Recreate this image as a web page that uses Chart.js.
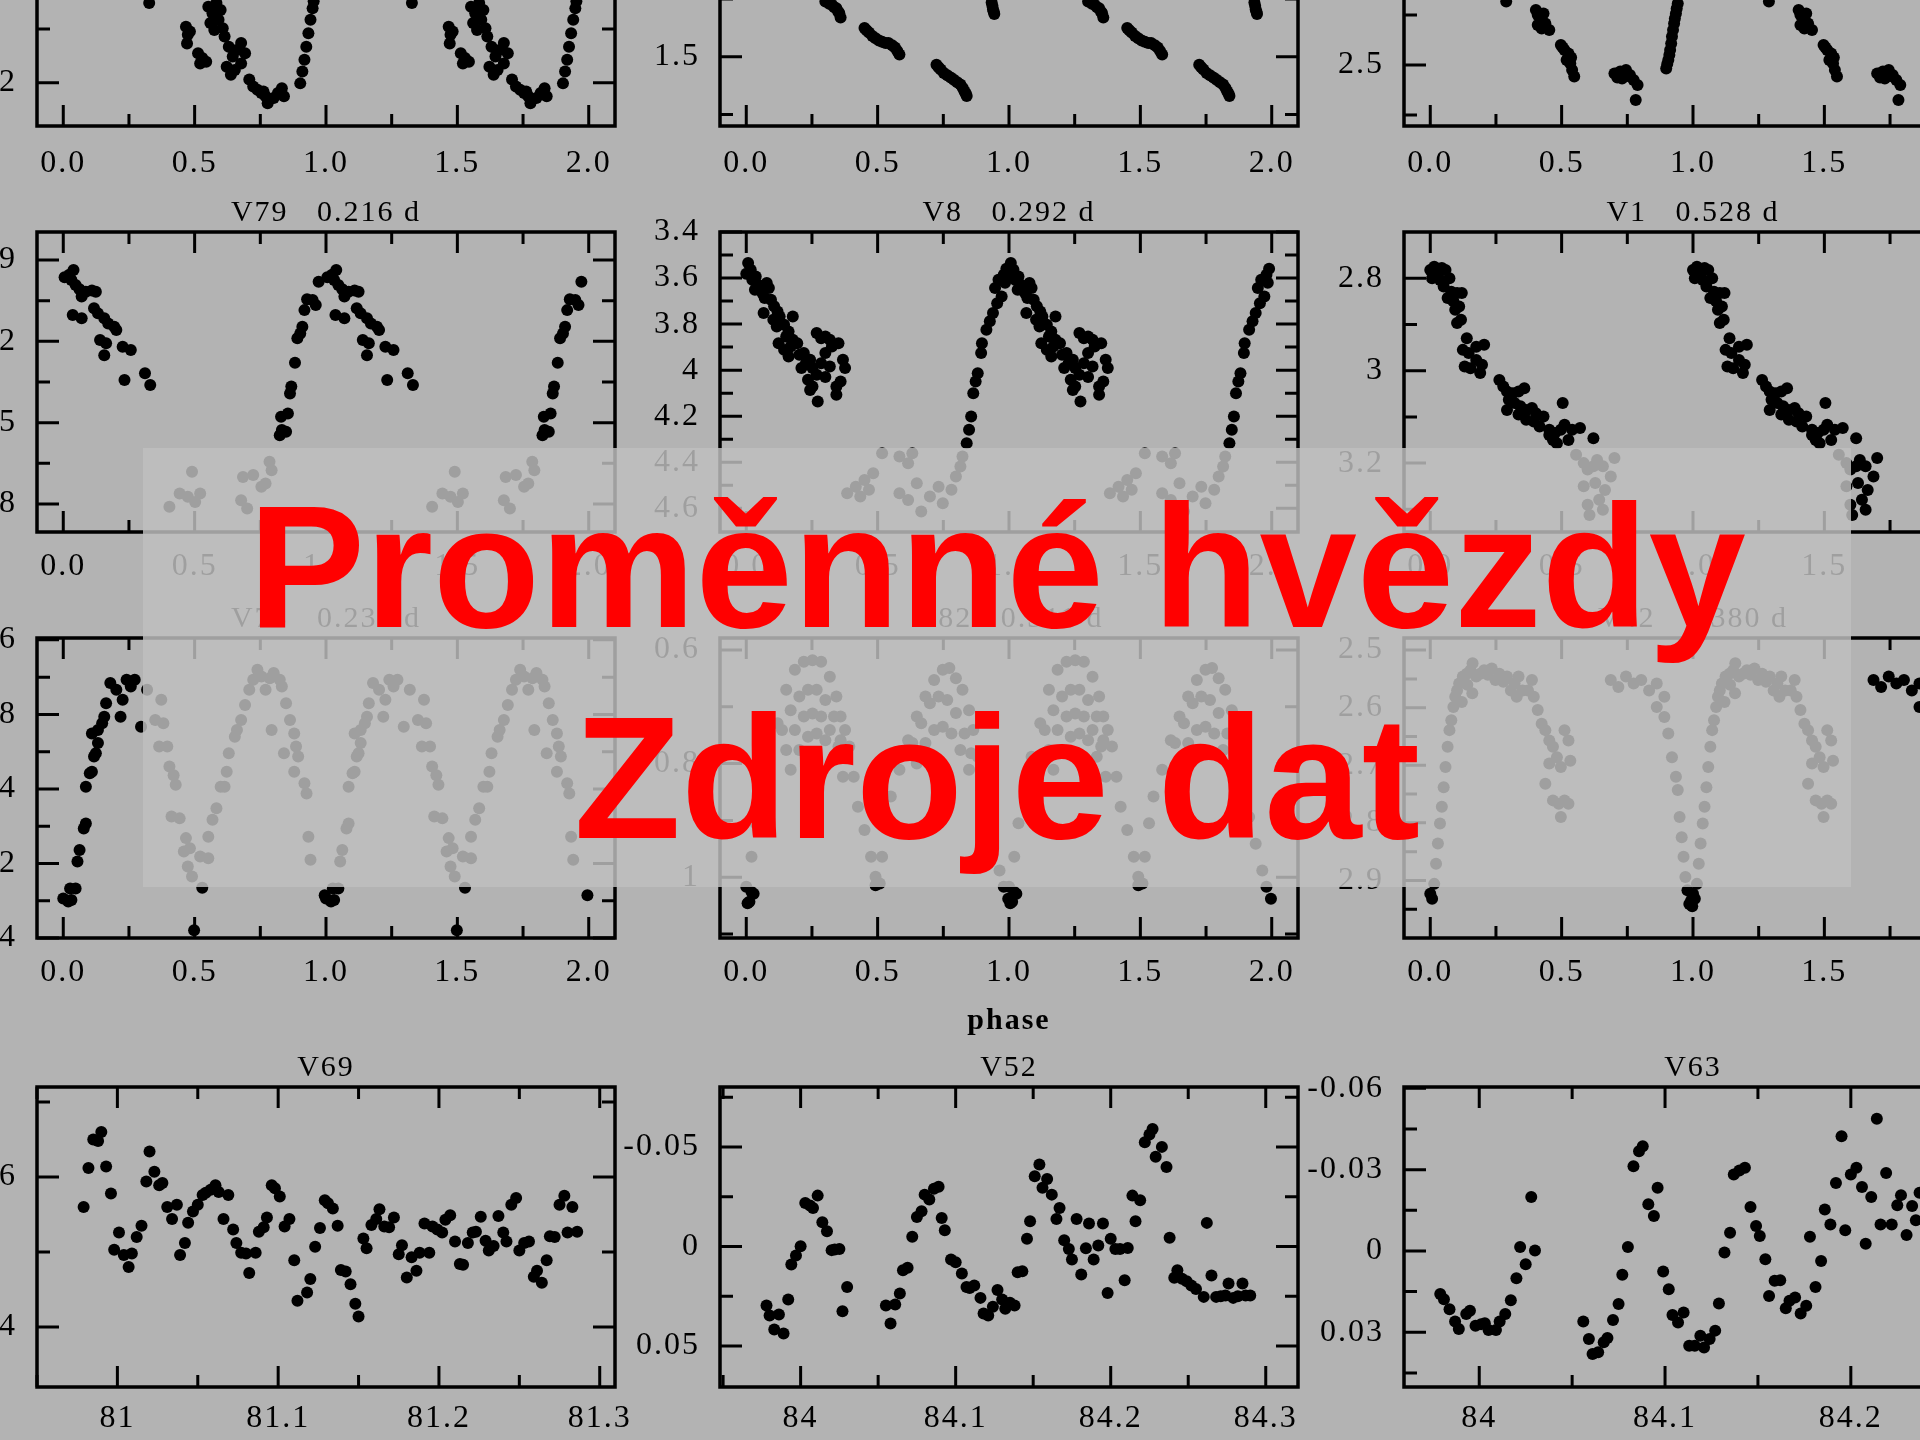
<!DOCTYPE html>
<html>
<head>
<meta charset="utf-8">
<script src="https://cdn.jsdelivr.net/npm/chart.js@4.4.1/dist/chart.umd.min.js"></script>
<style>
  html, body { margin: 0; padding: 0; }
  body { width: 1920px; height: 1440px; background: #b3b3b3; position: relative; overflow: hidden; }
  canvas { position: absolute; }
  #veil { position: absolute; left: 143px; top: 448px; width: 1708px; height: 439px; background: rgba(191, 191, 191, 0.83); }
  .headline { position: absolute; left: 97px; width: 1800px; text-align: center; white-space: nowrap;
    font: bold 175px/175px "Liberation Sans", Arial, sans-serif; color: #ff0000; }
</style>
</head>
<body>
<div id="charts"></div>
<div id="veil"></div>
<div class="headline" style="top:479px">Proměnné hvězdy</div>
<div class="headline" style="top:690px">Zdroje dat</div>
<script>
// Phase-folded light curves, [phase, mag]. Each one is drawn twice (phase and phase + 1).
// Row 1 is cut off by the top edge of the picture.
const r1c1 = [[0.327,4.052],[0.467,4.096],[0.474,4.111],[0.471,4.127],[0.482,4.105],[0.513,4.145],[0.529,4.154],[0.544,4.161],[0.521,4.164],
  [0.552,4.059],[0.568,4.071],[0.583,4.052],[0.599,4.065],[0.560,4.089],[0.591,4.083],[0.607,4.099],[0.575,4.102],[0.614,4.114],[0.630,4.133],
  [0.645,4.151],[0.661,4.139],[0.677,4.126],[0.692,4.145],[0.622,4.170],[0.653,4.176],[0.677,4.164],[0.638,4.185],[0.708,4.194],[0.723,4.207],
  [0.739,4.213],[0.754,4.219],[0.770,4.225],[0.786,4.231],[0.801,4.228],[0.817,4.219],[0.832,4.210],[0.840,4.225],[0.778,4.238],[0.762,4.216],
  [0.902,4.201],[0.910,4.179],[0.918,4.157],[0.925,4.133],[0.933,4.108],[0.941,4.083],[0.949,4.062],[0.953,4.049],
  [0.020,3.780],[0.100,3.860],[0.200,3.940],[0.280,4.000],[0.970,3.980]];
const r1c2 = [[0.301,1.452],[0.316,1.454],[0.326,1.455],[0.335,1.457],[0.343,1.458],[0.350,1.461],[0.354,1.462],[0.359,1.466],
  [0.450,1.475],[0.458,1.477],[0.467,1.479],[0.480,1.482],[0.492,1.484],[0.505,1.486],[0.517,1.487],[0.530,1.488],[0.541,1.488],
  [0.555,1.490],[0.566,1.492],[0.575,1.495],[0.583,1.498],
  [0.724,1.507],[0.732,1.509],[0.740,1.511],[0.752,1.514],[0.765,1.516],[0.778,1.518],[0.790,1.520],[0.803,1.522],[0.815,1.524],
  [0.824,1.527],[0.831,1.530],[0.836,1.532],[0.839,1.534],
  [0.934,1.453],[0.937,1.456],[0.939,1.459],[0.942,1.461],[0.944,1.463],
  [0.960,1.400],[0.990,1.360],[0.050,1.360],[0.120,1.380],[0.200,1.410],[0.260,1.430]];
const r1c3 = [[0.289,2.373],[0.402,2.390],[0.416,2.403],[0.431,2.397],[0.438,2.417],[0.453,2.430],[0.409,2.420],[0.424,2.427],[0.409,2.400],
  [0.497,2.460],[0.511,2.470],[0.526,2.477],[0.533,2.497],[0.540,2.510],[0.548,2.523],[0.519,2.490],[0.504,2.465],[0.536,2.485],
  [0.701,2.517],[0.723,2.513],[0.745,2.510],[0.760,2.520],[0.774,2.530],[0.730,2.527],[0.789,2.540],[0.782,2.570],[0.712,2.525],[0.752,2.522],
  [0.898,2.507],[0.902,2.498],[0.906,2.490],[0.910,2.480],[0.913,2.470],[0.917,2.457],[0.920,2.443],[0.924,2.430],[0.928,2.417],
  [0.931,2.407],[0.935,2.397],[0.938,2.387],[0.942,2.377],
  [0.950,2.300],[0.980,2.150],[0.050,2.200],[0.150,2.280],[0.250,2.340]];

// Row 2
const v79 = [[0.005,3.964],[0.023,3.955],[0.039,3.937],[0.031,3.974],[0.047,3.992],[0.062,4.008],[0.070,4.035],[0.086,4.017],[0.109,4.013],
  [0.124,4.017],[0.036,4.103],[0.070,4.115],[0.117,4.078],[0.132,4.097],[0.156,4.115],[0.171,4.134],[0.194,4.146],[0.202,4.158],[0.140,4.195],
  [0.163,4.207],[0.156,4.251],[0.226,4.220],[0.257,4.232],[0.233,4.343],[0.311,4.318],[0.331,4.361],
  [0.404,4.810],[0.443,4.761],[0.490,4.681],[0.521,4.761],[0.502,4.792],[0.474,4.773],[0.684,4.700],[0.723,4.693],[0.770,4.724],
  [0.785,4.644],[0.793,4.675],[0.677,4.786],[0.700,4.816],[0.754,4.736],
  [0.824,4.546],[0.832,4.527],[0.848,4.533],[0.829,4.478],[0.855,4.466],[0.863,4.392],[0.868,4.367],[0.882,4.279],[0.891,4.189],
  [0.902,4.171],[0.910,4.146],[0.918,4.085],[0.928,4.045],[0.949,4.048],[0.961,4.066],[0.972,3.980]];
const v8 = [[0.007,3.535],[0.000,3.581],[0.017,3.564],[0.023,3.607],[0.036,3.593],[0.045,3.629],[0.033,3.651],[0.061,3.665],[0.078,3.622],
  [0.070,3.687],[0.086,3.643],[0.094,3.694],[0.066,3.752],[0.106,3.723],[0.119,3.745],[0.103,3.781],[0.127,3.767],[0.116,3.810],[0.144,3.803],
  [0.161,3.832],[0.177,3.767],[0.152,3.854],[0.177,3.868],[0.123,3.883],[0.144,3.912],[0.169,3.897],[0.194,3.883],[0.202,3.933],[0.161,3.941],
  [0.219,3.926],[0.227,3.970],[0.210,3.991],[0.243,3.955],[0.252,3.991],[0.235,4.042],[0.252,4.071],[0.268,3.839],[0.285,3.861],[0.301,3.854],
  [0.268,4.020],[0.285,3.970],[0.301,4.030],[0.318,3.984],[0.326,3.897],[0.343,4.071],[0.359,4.049],[0.351,3.883],[0.368,3.955],[0.376,3.991],
  [0.272,4.136],[0.343,4.107],[0.301,3.926],[0.318,3.868],[0.243,4.086],
  [0.384,4.535],[0.417,4.506],[0.450,4.477],[0.483,4.448],[0.517,4.361],[0.467,4.520],[0.434,4.549],[0.583,4.375],[0.616,4.404],
  [0.632,4.361],[0.583,4.535],[0.616,4.564],[0.649,4.491],[0.666,4.614],[0.699,4.549],[0.732,4.506],[0.748,4.578],[0.781,4.520],
  [0.798,4.462],[0.815,4.419],[0.823,4.375],
  [0.839,4.317],[0.848,4.259],[0.856,4.201],[0.864,4.100],[0.873,4.049],[0.881,4.013],[0.894,3.926],[0.897,3.883],[0.914,3.825],
  [0.927,3.788],[0.939,3.752],[0.955,3.709],[0.972,3.680],[0.947,3.643],[0.960,3.607],[0.980,3.586],[0.985,3.620],[0.990,3.560]];
const v1 = [[0.000,2.782],[0.015,2.775],[0.029,2.793],[0.044,2.778],[0.058,2.782],[0.007,2.800],[0.037,2.804],[0.073,2.800],[0.051,2.818],
  [0.080,2.829],[0.102,2.832],[0.120,2.832],[0.066,2.843],[0.088,2.850],[0.110,2.861],[0.095,2.868],[0.102,2.897],[0.117,2.890],[0.139,2.930],
  [0.124,2.955],[0.146,2.962],[0.175,2.948],[0.205,2.944],[0.131,2.991],[0.153,2.995],[0.175,2.977],[0.190,3.005],[0.197,2.987],[0.263,3.020],
  [0.278,3.034],[0.292,3.045],[0.314,3.049],[0.336,3.045],[0.358,3.038],[0.299,3.063],[0.321,3.070],[0.343,3.077],[0.365,3.085],[0.387,3.081],
  [0.402,3.092],[0.431,3.099],[0.292,3.085],[0.336,3.095],[0.365,3.106],[0.394,3.110],[0.416,3.121],[0.453,3.128],[0.475,3.135],[0.497,3.128],
  [0.511,3.117],[0.540,3.128],[0.570,3.124],[0.504,3.070],[0.467,3.150],[0.526,3.150],[0.453,3.139],[0.482,3.157],[0.621,3.146],
  [0.555,3.182],[0.584,3.200],[0.599,3.214],[0.621,3.207],[0.635,3.193],[0.657,3.207],[0.701,3.189],[0.687,3.229],[0.665,3.258],
  [0.643,3.279],[0.599,3.290],[0.606,3.312],[0.657,3.301],[0.584,3.250],[0.628,3.243]];

// Row 3
const v73 = [[0.000,4.294],[0.031,4.298],[0.047,4.267],[0.054,4.195],[0.062,4.164],[0.078,4.106],[0.086,4.093],[0.086,3.994],[0.101,3.958],
  [0.109,3.954],[0.117,3.913],[0.124,3.904],[0.132,3.877],[0.109,3.851],[0.132,3.842],[0.148,3.824],[0.156,3.806],[0.163,3.770],[0.179,3.716],
  [0.202,3.734],[0.218,3.806],[0.226,3.761],[0.241,3.707],[0.257,3.725],[0.272,3.707],[0.296,3.833],
  [0.319,3.734],[0.373,3.761],[0.350,3.815],[0.381,3.824],[0.365,3.886],[0.396,3.886],[0.404,3.940],[0.420,3.963],[0.428,3.989],
  [0.412,4.074],[0.443,4.079],[0.467,4.132],[0.459,4.168],[0.482,4.159],[0.474,4.208],[0.490,4.235],[0.521,4.181],[0.529,4.265],
  [0.498,4.379],[0.552,4.186],[0.552,4.128],[0.568,4.083],[0.583,4.052],[0.599,3.994],[0.614,3.994],[0.622,3.954],[0.630,3.904],
  [0.653,3.860],[0.661,3.842],[0.677,3.815],[0.692,3.775],[0.708,3.734],[0.723,3.707],[0.739,3.680],[0.754,3.698],[0.770,3.734],
  [0.786,3.703],[0.801,3.689],[0.824,3.707],[0.832,3.725],[0.793,3.842],[0.848,3.770],[0.863,3.815],[0.879,3.851],[0.840,3.904],
  [0.886,3.886],[0.894,3.913],[0.879,3.954],[0.918,3.985],[0.926,4.012],[0.933,4.128],[0.941,4.190],[0.995,4.285],[0.019,4.302],[0.026,4.267]];
const v82 = [[0.020,0.964],[0.036,0.905],[0.061,0.847],[0.086,0.788],[0.119,0.729],[0.152,0.670],[0.185,0.635],[0.219,0.621],[0.252,0.618],
  [0.285,0.621],[0.318,0.647],[0.343,0.682],[0.359,0.717],[0.376,0.741],[0.392,0.770],[0.409,0.823],[0.425,0.876],[0.450,0.917],[0.475,0.964],
  [0.492,0.999],
  [0.136,0.741],[0.169,0.706],[0.202,0.682],[0.235,0.670],[0.268,0.670],[0.301,0.688],[0.334,0.717],[0.359,0.759],
  [0.152,0.776],[0.185,0.741],[0.219,0.717],[0.252,0.712],[0.285,0.717],[0.318,0.741],[0.351,0.770],
  [0.169,0.811],[0.202,0.776],[0.235,0.753],[0.268,0.747],[0.301,0.759],[0.334,0.788],[0.368,0.823],
  [0.517,0.964],[0.533,0.905],[0.550,0.858],[0.583,0.811],[0.616,0.759],[0.649,0.717],[0.682,0.682],[0.715,0.653],[0.748,0.635],
  [0.773,0.632],[0.798,0.650],[0.823,0.670],[0.848,0.706],[0.864,0.741],[0.881,0.788],[0.897,0.847],[0.914,0.894],[0.939,0.941],[0.964,0.988],
  [0.632,0.764],[0.666,0.729],[0.699,0.694],[0.732,0.682],[0.765,0.688],[0.798,0.711],[0.831,0.747],[0.856,0.782],
  [0.649,0.800],[0.682,0.764],[0.715,0.741],[0.748,0.735],[0.781,0.747],[0.815,0.776],[0.848,0.811],
  [0.000,1.017],[0.012,1.043],[0.028,1.029],[0.005,1.046],[0.020,1.026],[0.492,1.014],[0.508,1.011],[0.980,1.017],[0.997,1.038]];
const v42 = [[0.000,2.923],[0.007,2.932],[0.015,2.906],[0.022,2.871],[0.029,2.836],[0.037,2.801],[0.044,2.772],[0.051,2.738],[0.058,2.703],
  [0.066,2.668],[0.073,2.639],[0.080,2.622],[0.088,2.599],[0.095,2.581],[0.102,2.570],[0.110,2.558],[0.124,2.546],[0.139,2.541],[0.153,2.535],
  [0.161,2.523],[0.175,2.546],[0.190,2.541],[0.205,2.535],[0.219,2.543],[0.234,2.532],[0.248,2.552],[0.263,2.541],[0.278,2.555],[0.292,2.546],
  [0.307,2.570],[0.321,2.558],[0.336,2.546],[0.329,2.581],[0.351,2.570],[0.372,2.570],[0.387,2.552],[0.394,2.581],[0.409,2.604],[0.424,2.628],
  [0.438,2.639],[0.453,2.657],[0.467,2.668],[0.482,2.686],[0.497,2.703],[0.511,2.639],[0.526,2.657],[0.533,2.692],[0.453,2.697],[0.438,2.732],
  [0.467,2.761],[0.489,2.767],[0.511,2.761],[0.526,2.767],[0.497,2.790],[0.141,2.560],[0.160,2.575],[0.120,2.590],
  [0.687,2.552],[0.716,2.564],[0.745,2.546],[0.774,2.558],[0.803,2.552],[0.833,2.570],[0.862,2.558],[0.891,2.581],[0.862,2.599],
  [0.891,2.616],[0.906,2.645],[0.920,2.686],[0.935,2.720],[0.942,2.743],[0.949,2.790],[0.957,2.825],[0.964,2.859],[0.971,2.894],
  [0.979,2.917],[0.986,2.941],[0.993,2.935],[0.997,2.945]];

// Row 4: plain time series (time, mag)
const v69Time = [80.979,80.982,80.985,80.988,80.990,80.993,80.996,80.998,81.001,81.004,81.007,81.009,81.012,81.015,81.018,81.020,81.023,
  81.026,81.028,81.031,81.034,81.037,81.039,81.042,81.044,81.047,81.050,81.053,81.055,81.058,81.061,81.063,81.066,81.069,81.072,81.074,
  81.077,81.080,81.082,81.086,81.088,81.091,81.093,81.096,81.098,81.101,81.104,81.107,81.110,81.112,81.118,81.120,81.123,81.126,81.129,
  81.131,81.134,81.137,81.139,81.142,81.145,81.148,81.150,81.153,81.155,81.158,81.161,81.163,81.166,81.169,81.172,81.175,81.177,81.180,
  81.183,81.186,81.188,81.191,81.194,81.196,81.199,81.202,81.204,81.207,81.210,81.213,81.215,81.218,81.221,81.223,81.226,81.229,81.231,
  81.234,81.237,81.240,81.242,81.245,81.248,81.250,81.253,81.256,81.259,81.261,81.264,81.267,81.269,81.272,81.275,81.278,81.280,81.283,81.286];
const v69Mag = [-0.0560,-0.0612,-0.0650,-0.0648,-0.0660,-0.0614,-0.0578,-0.0503,-0.0526,-0.0496,
  -0.0480,-0.0498,-0.0520,-0.0535,-0.0594,-0.0634,-0.0607,-0.0589,-0.0592,-0.0560,
  -0.0544,-0.0563,-0.0496,-0.0512,-0.0539,-0.0554,-0.0563,-0.0576,-0.0579,-0.0583,
  -0.0589,-0.0580,-0.0544,-0.0576,-0.0530,-0.0512,-0.0499,-0.0498,-0.0472,-0.0499,
  -0.0527,-0.0533,-0.0546,-0.0589,-0.0585,-0.0574,-0.0534,-0.0544,-0.0489,-0.0435,
  -0.0446,-0.0464,-0.0507,-0.0532,-0.0569,-0.0565,-0.0558,-0.0535,-0.0476,-0.0474,
  -0.0457,-0.0431,-0.0414,-0.0518,-0.0505,-0.0536,-0.0544,-0.0557,-0.0534,-0.0533,
  -0.0546,-0.0497,-0.0509,-0.0466,-0.0493,-0.0475,-0.0499,-0.0538,-0.0499,-0.0534,
  -0.0530,-0.0526,-0.0543,-0.0549,-0.0514,-0.0484,-0.0483,-0.0512,-0.0526,-0.0527,
  -0.0547,-0.0515,-0.0502,-0.0508,-0.0548,-0.0526,-0.0514,-0.0563,-0.0572,-0.0502,
  -0.0512,-0.0514,-0.0467,-0.0475,-0.0459,-0.0489,-0.0521,-0.0520,-0.0563,-0.0575,
  -0.0526,-0.0560,-0.0527];
const v52Time = [83.978,83.980,83.983,83.986,83.989,83.992,83.994,83.997,84.000,84.003,84.006,84.008,84.011,84.014,84.017,84.020,84.022,
  84.025,84.027,84.030,
  84.055,84.058,84.061,84.064,84.066,84.069,84.072,84.075,84.078,84.080,84.083,84.086,84.089,84.091,84.093,84.097,84.100,84.104,84.107,
  84.109,84.112,84.116,84.118,84.121,84.124,84.127,84.130,84.132,84.135,84.138,84.140,84.143,84.146,84.148,84.151,84.154,84.156,84.159,
  84.162,84.165,84.167,84.170,84.173,84.175,84.178,84.181,84.184,84.186,84.189,84.192,84.195,84.198,84.200,84.203,84.206,84.209,84.211,
  84.214,84.216,84.219,84.222,84.225,84.227,84.229,84.233,84.236,84.238,84.241,84.243,84.246,84.249,84.252,84.255,84.260,84.262,84.265,
  84.268,84.271,84.274,84.276,84.279,84.282,84.285,84.287,84.290];
const v52Mag = [0.0296,0.0347,0.0417,0.0342,0.0437,0.0266,0.0090,0.0045,-0.0002,-0.0219,-0.0206,-0.0194,-0.0256,-0.0122,-0.0077,0.0018,
  0.0015,0.0012,0.0325,0.0203,
  0.0296,0.0387,0.0291,0.0236,0.0119,0.0107,-0.0049,-0.0149,-0.0178,-0.0261,
  -0.0236,-0.0290,-0.0300,-0.0144,-0.0082,0.0065,0.0079,0.0136,0.0203,0.0208,
  0.0196,0.0258,0.0337,0.0347,0.0303,0.0219,0.0266,0.0313,0.0283,0.0296,
  0.0129,0.0124,-0.0039,-0.0127,-0.0353,-0.0412,-0.0295,-0.0340,-0.0261,-0.0139,
  -0.0194,-0.0032,0.0012,0.0065,-0.0139,0.0141,0.0008,-0.0116,0.0065,-0.0005,
  -0.0116,0.0233,-0.0039,0.0012,0.0012,0.0169,0.0007,-0.0256,-0.0127,-0.0233,
  -0.0524,-0.0563,-0.0591,-0.0451,-0.0501,-0.0400,-0.0044,0.0157,0.0119,0.0162,
  0.0174,0.0196,0.0213,0.0253,-0.0119,0.0146,0.0253,0.0250,0.0246,0.0186,
  0.0258,0.0250,0.0186,0.0246,0.0246];
const v63Time = [83.979,83.981,83.984,83.987,83.989,83.993,83.995,83.998,84.001,84.003,84.005,84.009,84.011,84.014,84.017,84.020,84.022,
  84.025,84.028,84.030,
  84.056,84.059,84.061,84.064,84.067,84.069,84.072,84.075,84.077,84.080,84.083,84.086,84.088,84.091,84.094,84.096,84.099,84.102,84.104,
  84.107,84.110,84.113,84.116,84.119,84.121,84.124,84.127,84.129,84.132,84.135,84.137,84.140,84.143,84.146,84.149,84.151,84.154,84.156,
  84.159,84.162,84.165,84.167,84.170,84.173,84.176,84.178,84.181,84.184,84.186,84.189,84.192,84.195,84.197,84.200,84.203,84.206,84.208,
  84.211,84.214,84.216,84.219,84.222,84.225,84.227,84.230,84.233,84.235,84.237];
const v63Mag = [0.0159,0.0178,0.0215,0.0260,0.0288,0.0233,0.0221,0.0276,0.0270,0.0267,0.0292,0.0292,0.0260,0.0233,0.0182,0.0101,-0.0015,
  0.0049,-0.0199,-0.0002,
  0.0260,0.0325,0.0380,0.0374,0.0337,0.0321,0.0255,0.0196,0.0088,-0.0015,
  -0.0313,-0.0368,-0.0386,-0.0172,-0.0129,-0.0233,0.0076,0.0141,0.0236,0.0264,
  0.0227,0.0350,0.0350,0.0313,0.0356,0.0325,0.0294,0.0194,0.0006,-0.0067,
  -0.0282,-0.0297,-0.0307,-0.0162,-0.0092,-0.0055,0.0031,0.0166,0.0110,0.0108,
  0.0211,0.0184,0.0172,0.0231,0.0202,-0.0052,0.0133,0.0037,-0.0153,-0.0098,
  -0.0251,-0.0423,-0.0076,-0.0282,-0.0307,-0.0236,-0.0027,-0.0199,-0.0488,-0.0098,
  -0.0288,-0.0098,-0.0169,-0.0206,-0.0059,-0.0166,-0.0113,-0.0215];

// tick values (major ones get a label, minor ones only a short mark)
const phaseMajor = [0, 0.5, 1, 1.5, 2];
const phaseMinor = [0.25, 0.75, 1.25, 1.75];
const v69XMajor = [81, 81.1, 81.2, 81.3], v69XMinor = [80.95, 81.05, 81.15, 81.25];
const v52XMajor = [84, 84.1, 84.2, 84.3], v52XMinor = [83.95, 84.05, 84.15, 84.25];
const v63XMajor = [84, 84.1, 84.2], v63XMinor = [84.05, 84.15, 84.25];

const r1c1YMajor = [4.0, 4.2], r1c1YMinor = [3.9, 4.1];
const r1c2YMajor = [1.4, 1.5], r1c2YMinor = [1.35, 1.45, 1.55];
const r1c3YMajor = [2.1, 2.3, 2.5], r1c3YMinor = [2.2, 2.4, 2.6];
const v79YMajor = [3.9, 4.2, 4.5, 4.8], v79YMinor = [4.05, 4.35, 4.65];
const v8YMajor = [3.4, 3.6, 3.8, 4, 4.2, 4.4, 4.6], v8YMinor = [3.5, 3.7, 3.9, 4.1, 4.3, 4.5];
const v1YMajor = [2.8, 3, 3.2], v1YMinor = [2.9, 3.1, 3.3];
const v73YMajor = [3.6, 3.8, 4, 4.2, 4.4], v73YMinor = [3.7, 3.9, 4.1, 4.3];
const v82YMajor = [0.6, 0.8, 1], v82YMinor = [0.7, 0.9, 1.1];
const v42YMajor = [2.5, 2.6, 2.7, 2.8, 2.9], v42YMinor = [2.55, 2.65, 2.75, 2.85, 2.95];
const v69YMajor = [-0.06, -0.04], v69YMinor = [-0.07, -0.05];
const v52YMajor = [-0.05, 0, 0.05], v52YMinor = [-0.075, -0.025, 0.025];
const v63YMajor = [-0.06, -0.03, 0, 0.03], v63YMinor = [-0.045, -0.015, 0.015, 0.045];

// layout of the grid
const colLeft = [37, 720, 1404];
const rowTop = [-174, 232, 638, 1087];
const labelPad = [18, 15, 15, 12];
const plotW = 578, plotH = 300;
const padL = 120, padR = 120, padT = 60, padB = 120;

Chart.defaults.font.family = "'Liberation Serif', 'Times New Roman', serif";
Chart.defaults.color = '#000';

const pairs = (xs, ys) => xs.map((x, i) => [x, ys[i]]);
// phase diagrams show the cycle twice
const twice = (pts) => pts.concat(pts.map(([p, m]) => [p + 1, m]));
const compact = (v) => String(Number(v.toFixed(3)));

const panels = [
  { row: 0, col: 0, title: '', pts: twice(r1c1), x: [-0.1, 2.1], y: [3.724, 4.28], xt: [phaseMajor, phaseMinor], yt: [r1c1YMajor, r1c1YMinor], phase: true },
  { row: 0, col: 1, title: '', pts: twice(r1c2), x: [-0.1, 2.1], y: [1.3, 1.56], xt: [phaseMajor, phaseMinor], yt: [r1c2YMajor, r1c2YMinor], phase: true },
  { row: 0, col: 2, title: '', pts: twice(r1c3), x: [-0.1, 2.1], y: [2.022, 2.622], xt: [phaseMajor, phaseMinor], yt: [r1c3YMajor, r1c3YMinor], phase: true },
  { row: 1, col: 0, title: 'V79   0.216 d', pts: twice(v79), x: [-0.1, 2.1], y: [3.797, 4.903], xt: [phaseMajor, phaseMinor], yt: [v79YMajor, v79YMinor], phase: true },
  { row: 1, col: 1, title: 'V8   0.292 d', pts: twice(v8), x: [-0.1, 2.1], y: [3.4, 4.703], xt: [phaseMajor, phaseMinor], yt: [v8YMajor, v8YMinor], phase: true },
  { row: 1, col: 2, title: 'V1   0.528 d', pts: twice(v1), x: [-0.1, 2.1], y: [2.7, 3.349], xt: [phaseMajor, phaseMinor], yt: [v1YMajor, v1YMinor], phase: true },
  { row: 2, col: 0, title: 'V73   0.231 d', pts: twice(v73), x: [-0.1, 2.1], y: [3.595, 4.4], xt: [phaseMajor, phaseMinor], yt: [v73YMajor, v73YMinor], phase: true },
  { row: 2, col: 1, title: 'V82   0.311 d', pts: twice(v82), x: [-0.1, 2.1], y: [0.579, 1.107], xt: [phaseMajor, phaseMinor], yt: [v82YMajor, v82YMinor], phase: true, xTitle: 'phase' },
  { row: 2, col: 2, title: 'V42   0.380 d', pts: twice(v42), x: [-0.1, 2.1], y: [2.479, 3.0], xt: [phaseMajor, phaseMinor], yt: [v42YMajor, v42YMinor], phase: true },
  { row: 3, col: 0, title: 'V69', pts: pairs(v69Time, v69Mag), x: [80.95, 81.3095], y: [-0.072, -0.032], xt: [v69XMajor, v69XMinor], yt: [v69YMajor, v69YMinor] },
  { row: 3, col: 1, title: 'V52', pts: pairs(v52Time, v52Mag), x: [83.948, 84.3208], y: [-0.0802, 0.0706], xt: [v52XMajor, v52XMinor], yt: [v52YMajor, v52YMinor] },
  { row: 3, col: 2, title: 'V63', pts: pairs(v63Time, v63Mag), x: [83.9595, 84.2706], y: [-0.0605, 0.0502], xt: [v63XMajor, v63XMinor], yt: [v63YMajor, v63YMinor] },
];

// frame with inward ticks on all four sides, like the original plotting package
const frameTicks = {
  id: 'frameTicks',
  beforeDraw(chart) {
    chart.ctx.letterSpacing = '2px';
  },
  afterDatasetsDraw(chart) {
    const { ctx, chartArea: a, scales: { x, y } } = chart;
    ctx.save();
    ctx.strokeStyle = '#000';
    ctx.lineWidth = 3;
    ctx.beginPath();
    for (const t of x.ticks) {
      const px = x.getPixelForValue(t.value);
      if (px < a.left - 1 || px > a.right + 1) continue;
      const len = t.major ? 21 : 12;
      ctx.moveTo(px, a.bottom); ctx.lineTo(px, a.bottom - len);
      ctx.moveTo(px, a.top); ctx.lineTo(px, a.top + len);
    }
    for (const t of y.ticks) {
      const py = y.getPixelForValue(t.value);
      if (py < a.top - 1 || py > a.bottom + 1) continue;
      const len = t.major ? 22 : 13;
      ctx.moveTo(a.left, py); ctx.lineTo(a.left + len, py);
      ctx.moveTo(a.right, py); ctx.lineTo(a.right - len, py);
    }
    ctx.stroke();
    ctx.lineWidth = 3.5;
    ctx.strokeRect(a.left, a.top, a.right - a.left, a.bottom - a.top);
    ctx.restore();
  },
};

function tickSetter(major, minor) {
  return (scale) => {
    scale.ticks = major.map((v) => ({ value: v, major: true }))
      .concat(minor.map((v) => ({ value: v, major: false })))
      .sort((a, b) => a.value - b.value);
  };
}

function axis(range, ticks, fmt, extra) {
  return Object.assign({
    type: 'linear',
    min: range[0],
    max: range[1],
    grid: { display: false, drawTicks: false },
    border: { display: false },
    afterBuildTicks: tickSetter(ticks[0], ticks[1]),
    ticks: {
      autoSkip: false,
      maxRotation: 0,
      font: { size: 32 },
      color: '#000',
      callback: (v, i, all) => (all[i].major ? fmt(v) : ''),
    },
  }, extra);
}

for (const p of panels) {
  const canvas = document.createElement('canvas');
  canvas.width = plotW + padL + padR;
  canvas.height = plotH + padT + padB;
  canvas.style.left = (colLeft[p.col] - padL) + 'px';
  canvas.style.top = (rowTop[p.row] - padT) + 'px';
  document.getElementById('charts').appendChild(canvas);

  const xAxis = axis(p.x, p.xt, p.phase ? (v) => v.toFixed(1) : compact, {
    afterFit: (s) => { s.height = padB; },
    title: {
      display: !!p.xTitle,
      text: p.xTitle || '',
      color: '#000',
      font: { size: 30, weight: 'bold' },
      padding: { top: 0, bottom: 19 },
    },
  });
  xAxis.ticks.padding = labelPad[p.row];

  const yAxis = axis(p.y, p.yt, compact, {
    reverse: true,
    afterFit: (s) => { s.width = padL; },
  });
  yAxis.ticks.padding = 20;

  new Chart(canvas, {
    type: 'scatter',
    data: {
      datasets: [{
        data: p.pts.map(([x, y]) => ({ x, y })),
        pointRadius: 6,
        pointHoverRadius: 6,
        pointBorderWidth: 0,
        pointBackgroundColor: '#000',
      }],
    },
    options: {
      responsive: false,
      animation: false,
      events: [],
      layout: { padding: { left: 0, right: padR, top: 0, bottom: 0 } },
      plugins: {
        legend: { display: false },
        tooltip: { enabled: false },
        title: {
          display: true,
          text: p.title,
          fullSize: false,
          color: '#000',
          font: { size: 30, weight: 'normal' },
          padding: { top: 23, bottom: 1 },
        },
      },
      scales: { x: xAxis, y: yAxis },
    },
    plugins: [frameTicks],
  });
}
</script>
</body>
</html>
